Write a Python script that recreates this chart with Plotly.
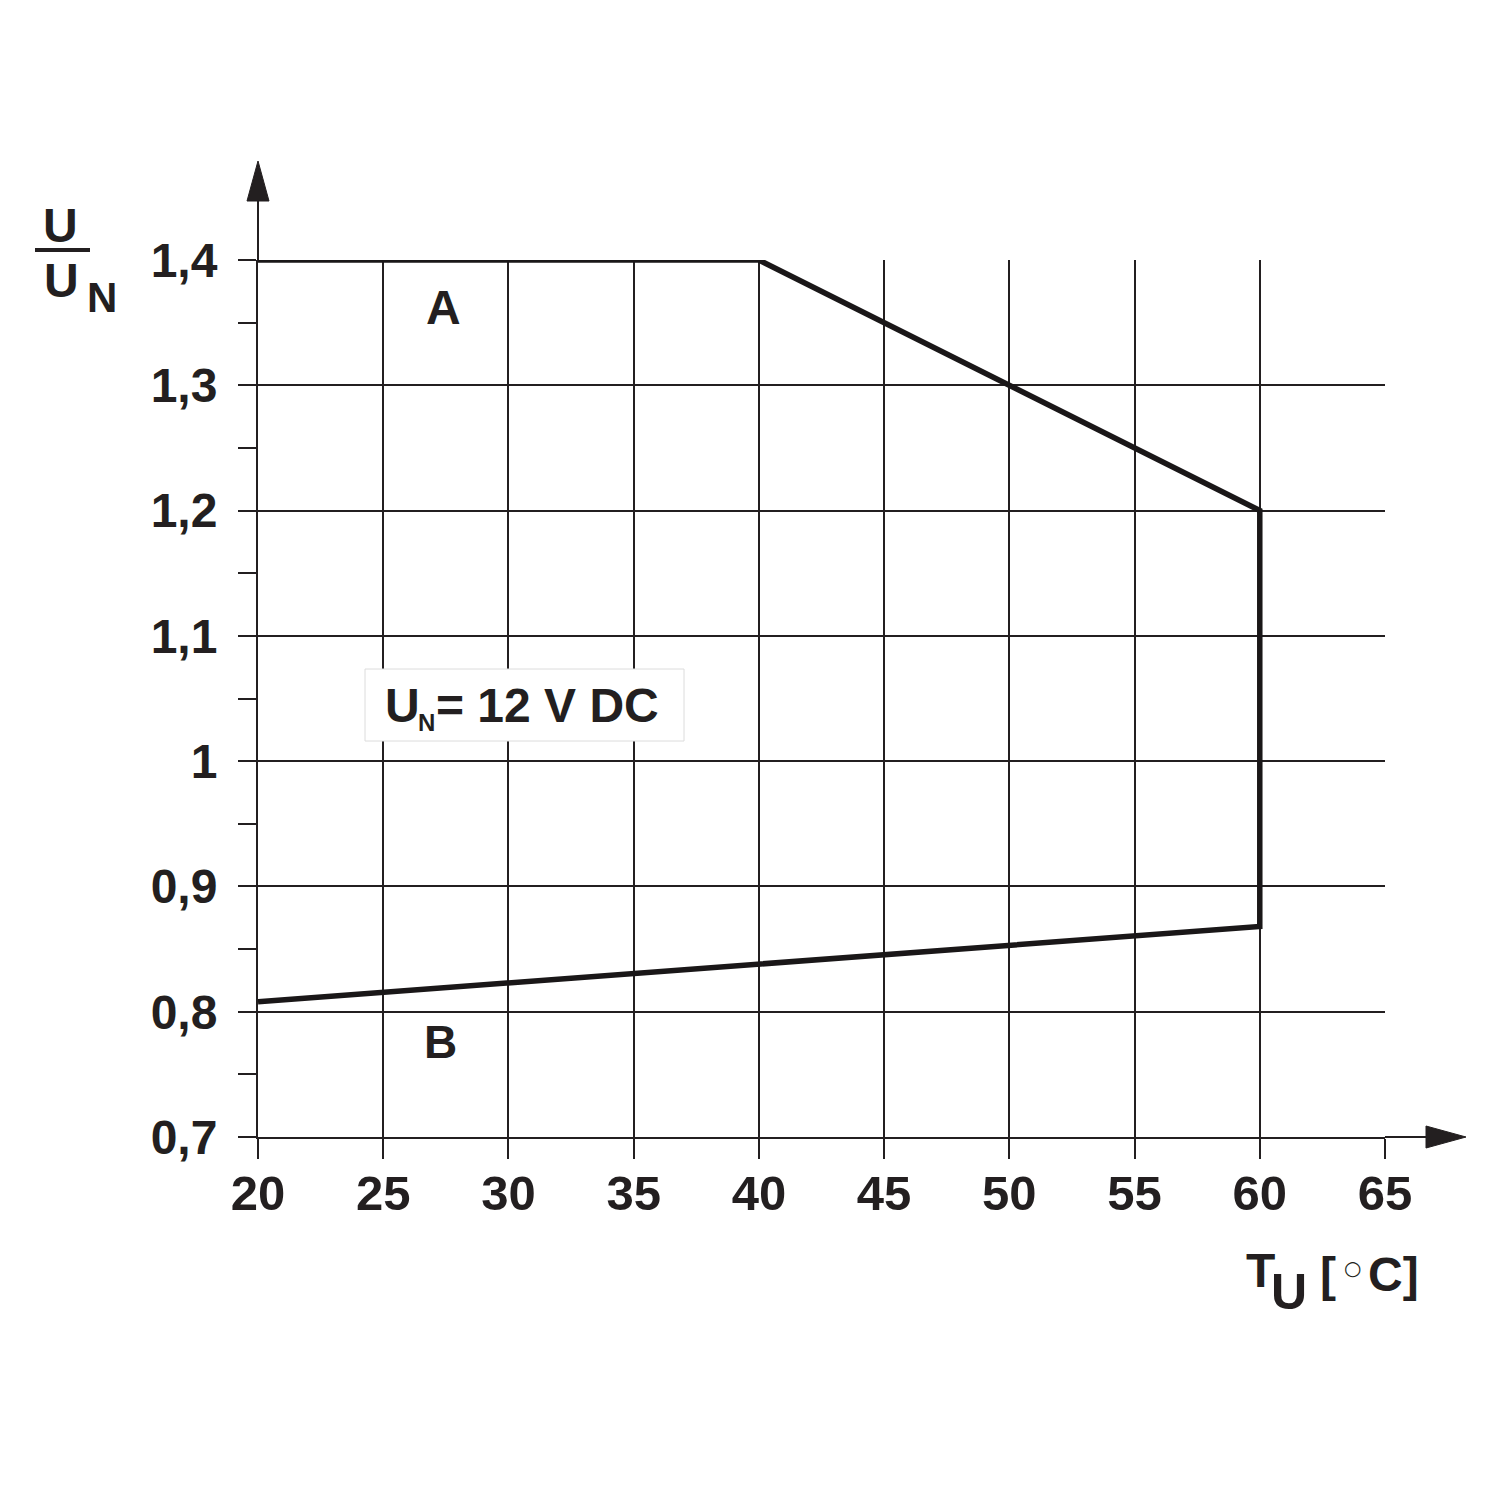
import plotly.graph_objects as go

# Data
temp = [20, 40, 60, 60, 20]
ratio = [1.4, 1.4, 1.2, 0.868, 0.808]
x_ticks = [20, 25, 30, 35, 40, 45, 50, 55, 60, 65]
x_ticklabels = ["20", "25", "30", "35", "40", "45", "50", "55", "60", "65"]
y_ticks = [0.7, 0.8, 0.9, 1.0, 1.1, 1.2, 1.3, 1.4]
y_ticklabels = ["0,7", "0,8", "0,9", "1", "1,1", "1,2", "1,3", "1,4"]

OFF = 8  # page body margin
W, H = 1500 - 2 * OFF, 1500 - 2 * OFF
# plot area in page pixels: x 258..1385, y 260..1137
L, T = 258 - OFF, 260 - OFF
R = W - (1385 - OFF)
B = H - (1137 - OFF)
PW, PH = W - L - R, H - T - B
INK = "#231f20"
FONT = "Liberation Sans, Arial, sans-serif"


def px(x):
    return (x - OFF - L) / PW


def py(y):
    return (H - B - (y - OFF)) / PH


fig = go.Figure()
fig.add_trace(go.Scatter(x=temp, y=ratio, mode="lines",
                         line=dict(color="#1a1718", width=5.5),
                         hoverinfo="skip", showlegend=False, cliponaxis=False))

fig.update_layout(
    width=W, height=H, autosize=False,
    margin=dict(l=L, r=R, t=T, b=B),
    paper_bgcolor="white", plot_bgcolor="white",
    font=dict(family=FONT, color=INK),
)
fig.update_xaxes(range=[20, 65], tickvals=x_ticks, ticktext=x_ticklabels,
                 showgrid=True, gridcolor=INK, gridwidth=2, zeroline=False,
                 showline=True, linecolor=INK, linewidth=2,
                 ticks="outside", ticklen=20, tickwidth=2, tickcolor=INK,
                 ticklabelstandoff=-8,
                 tickfont=dict(size=49, family=FONT, color=INK, weight="bold"),
                 fixedrange=True)
fig.update_yaxes(range=[0.7, 1.4], tickvals=y_ticks, ticktext=y_ticklabels,
                 showgrid=True, gridcolor=INK, gridwidth=2, zeroline=False,
                 showline=True, linecolor=INK, linewidth=2,
                 ticks="outside", ticklen=18, tickwidth=2, tickcolor=INK,
                 ticklabelstandoff=11,
                 minor=dict(dtick=0.05, tick0=0.7, ticks="outside", ticklen=18,
                            tickwidth=2, tickcolor=INK, showgrid=False),
                 tickfont=dict(size=48, family=FONT, color=INK, weight="bold"),
                 fixedrange=True)

shapes = []
# axis extensions and arrowheads
shapes.append(dict(type="line", xref="paper", yref="paper",
                   x0=1.0, y0=0, x1=px(1428), y1=0,
                   line=dict(color=INK, width=2)))
shapes.append(dict(type="path", xref="paper", yref="paper",
                   path=f"M {px(1426)} {py(1126)} L {px(1466)} {py(1137)} L {px(1426)} {py(1148)} Z",
                   fillcolor=INK, line=dict(color=INK, width=1)))
shapes.append(dict(type="line", xref="paper", yref="paper",
                   x0=0, y0=1.0, x1=0, y1=py(199),
                   line=dict(color=INK, width=2)))
shapes.append(dict(type="path", xref="paper", yref="paper",
                   path=f"M {px(247)} {py(201)} L {px(258)} {py(161)} L {px(269)} {py(201)} Z",
                   fillcolor=INK, line=dict(color=INK, width=1)))
# fraction bar of y title
shapes.append(dict(type="line", xref="paper", yref="paper",
                   x0=px(35), y0=py(250), x1=px(90), y1=py(250),
                   line=dict(color=INK, width=4)))
# label box
shapes.append(dict(type="rect", xref="paper", yref="paper",
                   x0=px(365), y0=py(669), x1=px(684), y1=py(741),
                   fillcolor="white", line=dict(color="#dcdcdc", width=1), layer="above"))
fig.update_layout(shapes=shapes)


def txt(s, x, y, size, xanchor="center", weight="bold", family=FONT):
    fig.add_annotation(text=s, x=px(x), y=py(y), xref="paper", yref="paper",
                       xanchor=xanchor, yanchor="middle", showarrow=False,
                       font=dict(size=size, family=family, color=INK, weight=weight))


txt("A", 443, 307, 48)
txt("B", 440, 1042, 46)
# y title
txt("U", 60, 226, 48)
txt("U", 61, 280, 48)
txt("N", 102, 297, 42)
# x title
txt("T", 1260, 1270, 48)
txt("U", 1289, 1292, 50)
txt("[", 1318, 1274, 48, xanchor="left")
txt("○", 1352, 1268, 20, weight="bold", family="DejaVu Sans")
txt("C]", 1366, 1274, 48, xanchor="left")
# box label
txt("U", 383, 705, 48, xanchor="left")
txt("N", 416, 722, 24, xanchor="left")
txt("= 12 V DC", 434, 705, 48, xanchor="left")

fig.write_html("out.html")
